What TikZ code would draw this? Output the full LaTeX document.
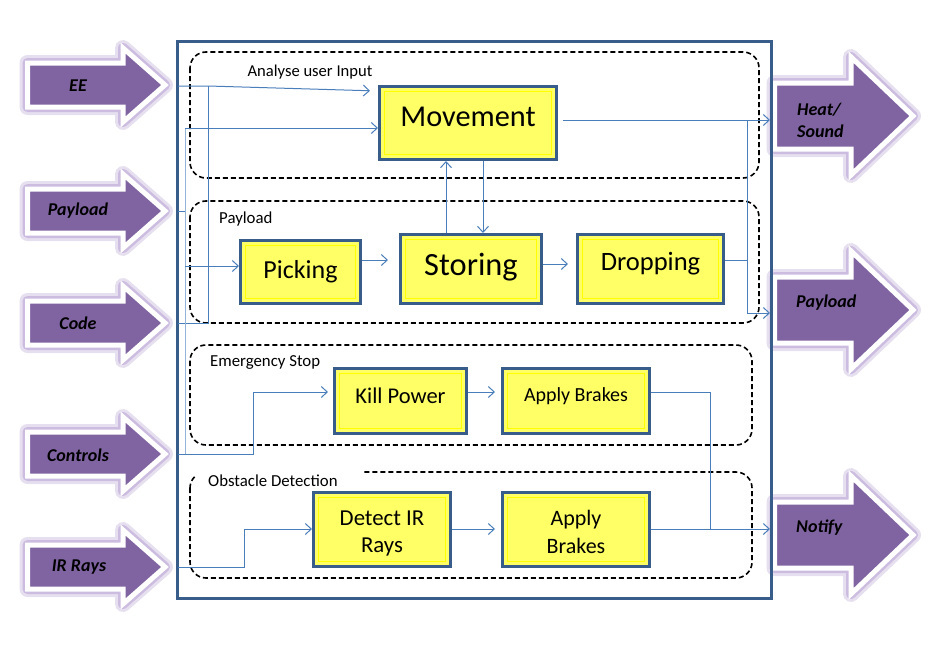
\documentclass[tikz,border=0pt]{standalone}
\usepackage{fontspec}
\setmainfont{Carlito}
\usetikzlibrary{arrows.meta}
\definecolor{purple5}{HTML}{8064A2}
\definecolor{purple1}{HTML}{E6DFEF}
\definecolor{purple2}{HTML}{CBBCE0}
\definecolor{blue5}{HTML}{385D8A}
\definecolor{blue4}{HTML}{4A7EBB}
\definecolor{blue2}{HTML}{95B3D7}
\definecolor{yellow5}{HTML}{FFFF66}
\definecolor{yellow6}{HTML}{FFFF00}

\begin{document}
\begin{tikzpicture}[x=1pt, y=-1pt, align=center,
block/.style={draw=blue5, line width=3pt, fill=yellow5, inner sep=0pt, path picture={\draw[yellow6, line width=0.8pt] ([shift={(5pt,5pt)}]path picture bounding box.south west) rectangle ([shift={(-5pt,-5pt)}]path picture bounding box.north east);}},
groupbox/.style={draw=black, dash pattern=on 5pt off 3pt, line width=1.6pt, rounded corners=16pt},
grouplabel/.style={anchor=west, inner sep=0pt, font=\fontsize{16.8}{19}\selectfont},
frame/.style={draw=blue5, line width=3pt},
inarrow/.style={fill=purple5, draw=white, line width=5pt, line join=miter, preaction={draw=purple1, line width=16pt, line join=round}, preaction={draw=purple2, line width=10pt, line join=round}},
arrowtext/.style={inner sep=0pt, font=\fontsize{18}{22}\selectfont\bfseries\itshape},
wire/.style={draw=blue4, line width=1pt},
feed/.style={wire, -{Straight Barb[length=6pt, width=11pt]}},
faint/.style={draw=blue2, line width=1pt}]
\useasboundingbox (0,0) rectangle (935,648);
\filldraw[shift={(165,85)}, inarrow] (-137.5,-22) -- (-42,-22) -- (-42,-37) -- (0,0) -- (-42,37) -- (-42,22) -- (-137.5,22) -- cycle;
\filldraw[shift={(165,211)}, inarrow] (-137.5,-22) -- (-42,-22) -- (-42,-37) -- (0,0) -- (-42,37) -- (-42,22) -- (-137.5,22) -- cycle;
\filldraw[shift={(165,323)}, inarrow] (-137.5,-22) -- (-42,-22) -- (-42,-37) -- (0,0) -- (-42,37) -- (-42,22) -- (-137.5,22) -- cycle;
\filldraw[shift={(165,454)}, inarrow] (-137.5,-22) -- (-42,-22) -- (-42,-37) -- (0,0) -- (-42,37) -- (-42,22) -- (-137.5,22) -- cycle;
\filldraw[shift={(165,567)}, inarrow] (-137.5,-22) -- (-42,-22) -- (-42,-37) -- (0,0) -- (-42,37) -- (-42,22) -- (-137.5,22) -- cycle;
\filldraw[shift={(913,116)}, inarrow] (-138.5,-33) -- (-62,-33) -- (-62,-59) -- (0,0) -- (-62,59) -- (-62,33) -- (-138.5,33) -- cycle;
\filldraw[shift={(913,310)}, inarrow] (-138.5,-33) -- (-62,-33) -- (-62,-59) -- (0,0) -- (-62,59) -- (-62,33) -- (-138.5,33) -- cycle;
\filldraw[shift={(913,535)}, inarrow] (-138.5,-33) -- (-62,-33) -- (-62,-59) -- (0,0) -- (-62,59) -- (-62,33) -- (-138.5,33) -- cycle;
\node[arrowtext] (eeText) at (78,86) {EE};
\node[arrowtext] (payInText) at (78,211) {Payload};
\node[arrowtext] (codeText) at (78,323) {Code};
\node[arrowtext] (ctrlText) at (78,455) {Controls};
\node[arrowtext] (irText) at (79,567) {IR Rays};
\node[arrowtext, anchor=west, align=left] (heatText) at (797,120) {Heat/\\Sound};
\node[arrowtext, anchor=west] (payOutText) at (796,303) {Payload};
\node[arrowtext, anchor=west] (notifyText) at (796,528) {Notify};
\draw[frame] (177,41) rectangle (771,598);
\draw[groupbox] (190,52) rectangle (759,178);
\draw[groupbox] (190,201) rectangle (759,323);
\draw[groupbox] (190,345) rectangle (752,445);
\draw[groupbox] (190,472) rectangle (752,578);
\fill[white] (196,465) rectangle (362,479);
\node[grouplabel, anchor=center, font=\fontsize{16.6}{19}\selectfont] (analyseLabel) at (310,72) {Analyse user Input};
\node[grouplabel] (payloadLabel) at (219,219) {Payload};
\node[grouplabel] (stopLabel) at (210,362) {Emergency Stop};
\node[grouplabel] (obstacleLabel) at (208,481) {Obstacle Detection};
\node[block, minimum width=177pt, minimum height=73pt, text depth=12pt, font=\fontsize{30.3}{34}\selectfont] (mov) at (468,123) {Movement};
\node[block, minimum width=120pt, minimum height=63pt, font=\fontsize{26}{30}\selectfont] (pick) at (300.5,272) {Picking};
\node[block, minimum width=141pt, minimum height=69pt, text depth=10pt, font=\fontsize{32.4}{36}\selectfont] (sto) at (471,269) {Storing};
\node[block, minimum width=146pt, minimum height=69pt, text depth=15pt, font=\fontsize{26.5}{30}\selectfont] (drop) at (650.5,269) {Dropping};
\node[block, minimum width=132pt, minimum height=65pt, text depth=10pt, font=\fontsize{22.5}{26}\selectfont] (kill) at (400.5,401) {Kill Power};
\node[block, minimum width=147pt, minimum height=65pt, text depth=12pt, font=\fontsize{20}{24}\selectfont] (brk1) at (576,401) {Apply Brakes};
\node[block, minimum width=137pt, minimum height=74pt, text height=51pt, font=\fontsize{22.8}{27}\selectfont] (det) at (382,529) {Detect IR\\Rays};
\node[block, minimum width=147pt, minimum height=74pt, text height=50pt, font=\fontsize{22}{28}\selectfont] (brk2) at (576,529) {Apply\\Brakes};
\coordinate (eeIn) at (178,86);
\coordinate (payIn) at (178,211);
\coordinate (codeIn) at (178,323);
\coordinate (ctrlIn) at (178,454);
\coordinate (irIn) at (178,567);
\coordinate (heatOut) at (770,120);
\coordinate (payOut) at (770,313);
\coordinate (notifyOut) at (770,529);
\coordinate (eeBus) at (208,86);
\coordinate (ctrlBus) at (185,128);
\coordinate (outBus) at (747,120);
\coordinate (brakeBus) at (710,529);
\draw[wire] (codeIn) -| (eeBus);
\draw[feed, shorten >=8pt] (eeIn) -- (eeBus) -- ([yshift=-6pt]mov.north west);
\draw[faint] (ctrlBus) -- (ctrlBus |- ctrlIn);
\draw[wire] (payIn) -- (payIn -| ctrlBus);
\draw[feed] (ctrlBus) -- ([yshift=-5pt]mov.west);
\draw[feed] ([yshift=6pt]pick.west -| ctrlBus) -- ([yshift=6pt]pick.west);
\draw[feed, shorten >=5pt] (ctrlIn) -| ([xshift=-80pt, yshift=9pt]kill.west) -- ([yshift=9pt]kill.west);
\draw[feed] (irIn) -| ([xshift=-68pt]det.west) -- (det.west);
\draw[feed, shorten >=11pt] ([yshift=12pt]pick.east) -- ([yshift=12pt]pick.east -| sto.west);
\draw[feed, shorten >=8pt] ([yshift=5pt]sto.east) -- ([yshift=5pt]sto.east -| drop.west);
\draw[feed] ([xshift=-25pt]sto.north) -- ([xshift=-25pt]sto.north |- mov.south);
\draw[feed] ([xshift=12pt]sto.north |- mov.south) -- ([xshift=12pt]sto.north);
\draw[feed, shorten <=5pt] ([yshift=3pt]mov.east) -- (heatOut);
\draw[feed] (outBus) |- (payOut);
\draw[wire] ([yshift=9pt]drop.east) -- ([yshift=9pt]drop.east -| outBus);
\draw[feed, shorten >=6pt] ([yshift=9pt]kill.east) -- ([yshift=9pt]brk1.west);
\draw[feed, shorten >=6pt] (det.east) -- (brk2.west);
\draw[wire] ([yshift=9pt]brk1.east) -| (brakeBus);
\draw[feed] (brk2.east) -- (notifyOut);
\end{tikzpicture}
\end{document}
